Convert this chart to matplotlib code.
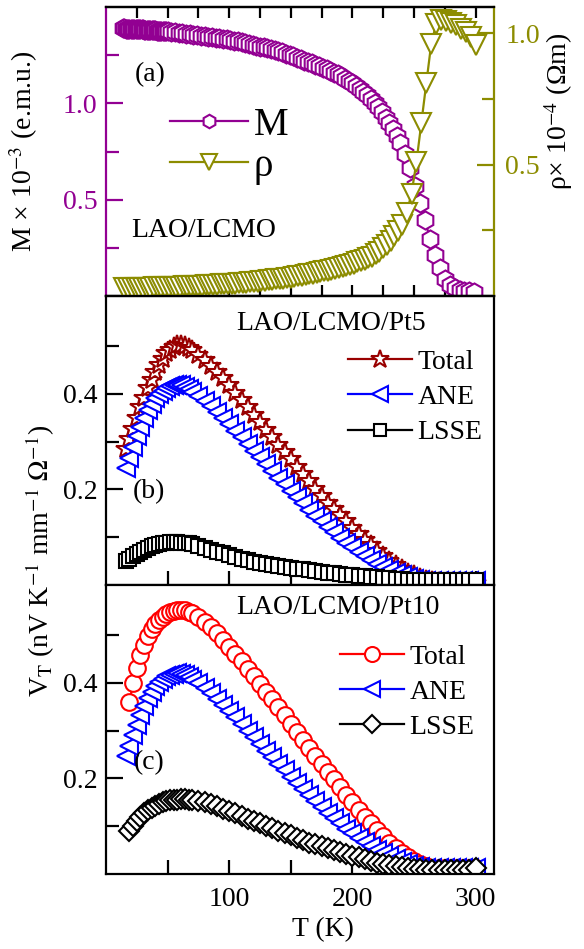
import matplotlib
matplotlib.use("Agg")
import matplotlib.pyplot as plt
from matplotlib.ticker import FixedLocator, FormatStrFormatter

plt.rcParams['font.family'] = ['Liberation Serif', 'DejaVu Serif']
plt.rcParams['mathtext.fontset'] = 'stix'

# ---------------- data ----------------
# panel (a): magnetisation vs T
T_M = [14, 15, 16, 17, 18, 19, 20, 21, 22, 23, 24, 25, 26, 27, 28, 29, 30, 31, 32, 33,
       34, 35, 36, 37, 38, 39, 40, 41, 42, 43, 44, 45, 46, 47, 48, 49, 50,
       53, 56, 59, 62, 65, 68, 71, 74, 77, 80, 83, 86, 89, 92, 95, 98, 101, 104, 107,
       110, 113, 116, 119, 122, 125, 128, 131, 134, 137, 140, 143, 146, 149, 152, 155,
       158, 161, 164, 167, 170, 173, 176, 179, 182, 185, 188, 191, 194, 197, 200, 203,
       206, 209, 212, 215, 218, 221, 224, 227, 230, 233, 236, 239,
       243, 247, 251, 255, 259, 263, 267, 271, 275, 279, 283, 287, 291, 295, 299]
M_a = [1.389, 1.389, 1.388, 1.388, 1.388, 1.387, 1.387, 1.387, 1.386, 1.386, 1.386, 1.385,
       1.385, 1.385, 1.384, 1.384, 1.384, 1.383, 1.383, 1.382, 1.382, 1.381, 1.381, 1.380,
       1.380, 1.379, 1.379, 1.378, 1.378, 1.377, 1.376, 1.376, 1.375, 1.375, 1.374, 1.373,
       1.373,
       1.371, 1.368, 1.366, 1.363, 1.361, 1.358, 1.356, 1.353, 1.351, 1.349, 1.346, 1.344,
       1.341, 1.338, 1.335, 1.332, 1.329, 1.326, 1.323, 1.319, 1.315, 1.310, 1.305, 1.300,
       1.295, 1.291, 1.286, 1.281, 1.276, 1.270, 1.264, 1.258, 1.252, 1.245, 1.238, 1.230,
       1.222, 1.215, 1.207, 1.200, 1.192, 1.184, 1.176, 1.168, 1.159, 1.151, 1.141, 1.129,
       1.117, 1.104, 1.090, 1.075, 1.059, 1.042, 1.023, 1.003, 0.980, 0.954, 0.926, 0.897,
       0.865, 0.832, 0.795,
       0.737, 0.662, 0.573, 0.483, 0.393, 0.295, 0.213, 0.143, 0.090, 0.056, 0.040, 0.032,
       0.028, 0.025, 0.023]

# panel (a): resistivity vs T
T_rho = [15, 18, 21, 24, 27, 30, 33, 36, 39, 42, 45, 48, 51, 54, 57, 60, 63, 66, 69, 72,
         75, 78, 81, 84, 87, 90, 93, 96, 99, 102, 105, 108, 111, 114, 117, 120, 123, 126,
         129, 132, 135, 138, 141, 144, 147, 150, 153, 156, 159, 162, 165, 168, 171, 174,
         177, 180, 183, 186, 189, 192, 195, 198, 201, 204, 207, 210, 213, 216, 219, 222,
         225, 228, 231, 234, 237, 240,
         244, 248, 252, 256, 260, 264, 268, 272, 276, 280, 284, 288, 292, 296, 300]
rho_a = [0.030, 0.030, 0.030, 0.031, 0.031, 0.032, 0.032, 0.032, 0.033, 0.033, 0.034, 0.034,
         0.034, 0.035, 0.035, 0.036, 0.037, 0.037, 0.038, 0.039, 0.040, 0.040, 0.041, 0.042,
         0.043, 0.043, 0.044, 0.045, 0.046, 0.046, 0.047, 0.048, 0.050, 0.051, 0.052, 0.054,
         0.055, 0.057, 0.058, 0.060, 0.061, 0.063, 0.064, 0.066, 0.068, 0.070, 0.073, 0.075,
         0.077, 0.079, 0.082, 0.085, 0.088, 0.091, 0.094, 0.097, 0.100, 0.103, 0.106, 0.110,
         0.114, 0.119, 0.123, 0.128, 0.132, 0.137, 0.143, 0.150, 0.159, 0.169, 0.181, 0.195,
         0.210, 0.227, 0.248, 0.272,
         0.315, 0.390, 0.510, 0.660, 0.810, 0.960, 1.035, 1.052, 1.048, 1.040, 1.030, 1.018,
         1.005, 0.985, 0.955]

# panels (b), (c): thermal voltage vs T
T_bc = [16, 19, 22, 25, 28, 31, 34, 37, 40, 43, 46, 49, 52, 55, 58, 61, 64, 67, 70,
        75, 80, 85, 90, 95, 100, 105, 110, 115, 120, 125, 130, 135, 140, 145, 150, 155,
        160, 165, 170, 175, 180, 185, 190, 195, 200, 205, 210, 215, 220, 225, 230, 235,
        240, 245, 250, 255, 260, 265, 270, 275, 280, 285, 290, 295, 300]

total_b = [0.285, 0.305, 0.327, 0.350, 0.372, 0.392, 0.412, 0.430, 0.446, 0.461, 0.474, 0.485,
           0.493, 0.499, 0.502, 0.503, 0.500, 0.496, 0.491, 0.482, 0.471, 0.459, 0.446, 0.433,
           0.418, 0.403, 0.388, 0.372, 0.356, 0.341, 0.325, 0.310, 0.294, 0.279, 0.263, 0.248,
           0.232, 0.217, 0.201, 0.186, 0.172, 0.159, 0.146, 0.133, 0.120, 0.107, 0.095, 0.083,
           0.071, 0.060, 0.050, 0.041, 0.033, 0.026, 0.020, 0.015, 0.011, 0.008, 0.006, 0.005,
           0.005, 0.005, 0.005, 0.005, 0.005]
ane_b = [0.245, 0.266, 0.289, 0.311, 0.331, 0.350, 0.366, 0.380, 0.391, 0.400, 0.407, 0.412,
         0.416, 0.418, 0.419, 0.418, 0.415, 0.410, 0.405, 0.396, 0.386, 0.375, 0.363, 0.350,
         0.337, 0.323, 0.309, 0.295, 0.281, 0.267, 0.253, 0.239, 0.225, 0.211, 0.197, 0.184,
         0.171, 0.158, 0.145, 0.133, 0.121, 0.110, 0.099, 0.089, 0.079, 0.070, 0.061, 0.053,
         0.045, 0.038, 0.032, 0.026, 0.021, 0.017, 0.013, 0.011, 0.009, 0.008, 0.008, 0.008,
         0.008, 0.008, 0.008, 0.008, 0.008]
lsse_b = [0.050, 0.055, 0.060, 0.065, 0.070, 0.074, 0.078, 0.081, 0.084, 0.086, 0.088, 0.089,
          0.090, 0.090, 0.090, 0.089, 0.088, 0.087, 0.085, 0.082, 0.078, 0.074, 0.070, 0.066,
          0.062, 0.058, 0.055, 0.052, 0.049, 0.046, 0.044, 0.042, 0.040, 0.038, 0.036, 0.034,
          0.033, 0.031, 0.029, 0.028, 0.026, 0.025, 0.023, 0.022, 0.021, 0.019, 0.018, 0.017,
          0.016, 0.015, 0.014, 0.013, 0.012, 0.011, 0.011, 0.010, 0.010, 0.010, 0.010, 0.010,
          0.010, 0.010, 0.010, 0.010, 0.011]

# panel (c): Total and LSSE start at 19 K (T_bc[1:])
total_c = [0.360, 0.400, 0.432, 0.458, 0.480, 0.498, 0.512, 0.523, 0.532, 0.539, 0.544,
           0.548, 0.551, 0.553, 0.553, 0.552, 0.549, 0.546, 0.538, 0.528, 0.517, 0.504, 0.490,
           0.476, 0.461, 0.446, 0.430, 0.414, 0.398, 0.382, 0.366, 0.349, 0.332, 0.315, 0.298,
           0.281, 0.264, 0.247, 0.230, 0.214, 0.198, 0.182, 0.166, 0.150, 0.135, 0.120, 0.106,
           0.092, 0.079, 0.066, 0.054, 0.044, 0.035, 0.027, 0.021, 0.016, 0.013, 0.012, 0.012,
           0.012, 0.012, 0.012, 0.012, 0.012]
ane_c = [0.247, 0.268, 0.291, 0.313, 0.333, 0.352, 0.368, 0.382, 0.393, 0.402, 0.409, 0.414,
         0.417, 0.419, 0.420, 0.419, 0.416, 0.412, 0.407, 0.399, 0.389, 0.378, 0.366, 0.354,
         0.341, 0.328, 0.314, 0.300, 0.286, 0.272, 0.258, 0.244, 0.231, 0.217, 0.204, 0.191,
         0.178, 0.165, 0.152, 0.140, 0.128, 0.117, 0.106, 0.095, 0.085, 0.076, 0.067, 0.059,
         0.051, 0.044, 0.038, 0.032, 0.026, 0.021, 0.017, 0.015, 0.013, 0.012, 0.012, 0.012,
         0.012, 0.012, 0.012, 0.012, 0.012]
lsse_c = [0.090, 0.100, 0.110, 0.119, 0.127, 0.134, 0.139, 0.143, 0.147, 0.150, 0.152,
          0.154, 0.155, 0.156, 0.157, 0.157, 0.156, 0.155, 0.153, 0.150, 0.146, 0.142, 0.137,
          0.132, 0.127, 0.121, 0.116, 0.111, 0.106, 0.101, 0.096, 0.091, 0.086, 0.081, 0.076,
          0.071, 0.066, 0.062, 0.058, 0.054, 0.050, 0.046, 0.042, 0.038, 0.035, 0.031, 0.027,
          0.024, 0.021, 0.018, 0.016, 0.014, 0.012, 0.011, 0.010, 0.009, 0.009, 0.009, 0.009,
          0.009, 0.009, 0.009, 0.009, 0.012]

x_major = [100, 200, 300]
x_minor_bc = [50, 150, 250]
x_ticks_a = [25, 50, 75, 100, 125, 150, 175, 200, 225, 250, 275, 300]

# ---------------- style ----------------
PURPLE = '#920092'
OLIVE = '#8C8C00'
DARKRED = '#990000'
RED = '#FF0000'
BLUE = '#0000FF'
BLACK = '#000000'

FS_TICK = 20
FS_LAB = 20

fig = plt.figure(figsize=(5.84, 9.49), dpi=100)
gs = fig.add_gridspec(3, 1, left=0.1815, right=0.846, top=0.9926, bottom=0.079, hspace=0)
ax_a = fig.add_subplot(gs[0])
ax_b = fig.add_subplot(gs[1])
ax_c = fig.add_subplot(gs[2])
ax_a2 = ax_a.twinx()

def series(ax, x, y, marker, color, ms, label, lw=1.6, mew=1.5):
    return ax.plot(x, y, marker=marker, color=color, mfc='white', mec=color, ms=ms,
                   mew=mew, lw=lw, label=label)[0]

# panel (a)
hM = series(ax_a, T_M, M_a, 'h', PURPLE, 13, 'M')
hR = series(ax_a2, T_rho, rho_a, 'v', OLIVE, 15, 'ρ')
ax_a.set_ylim(0, 1.5)
ax_a2.set_ylim(0, 1.1)

# panel (b)
series(ax_b, T_bc, total_b, '*', DARKRED, 15, 'Total')
series(ax_b, T_bc, ane_b, '<', BLUE, 13, 'ANE')
series(ax_b, T_bc, lsse_b, 's', BLACK, 10, 'LSSE')
ax_b.set_ylim(0, 0.605)

# panel (c)
series(ax_c, T_bc[1:], total_c, 'o', RED, 12, 'Total')
series(ax_c, T_bc, ane_c, '<', BLUE, 13, 'ANE')
series(ax_c, T_bc[1:], lsse_c, 'D', BLACK, 10, 'LSSE')
ax_c.set_ylim(0, 0.605)

for ax in (ax_a, ax_a2, ax_b, ax_c):
    ax.set_xlim(0, 315)
    for s in ax.spines.values():
        s.set_linewidth(1.6)
ax_a.spines['left'].set_color(PURPLE)
ax_a2.spines['left'].set_visible(False)
ax_a2.spines['right'].set_color(OLIVE)
ax_a.spines['right'].set_visible(False)

# ticks panel (a)
ax_a.xaxis.set_major_locator(FixedLocator(x_ticks_a))
ax_a.tick_params(axis='x', which='both', direction='in', top=True, bottom=True,
                 labelbottom=False, length=8, width=1.6)
ax_a.yaxis.set_major_locator(FixedLocator([0.5, 1.0]))
ax_a.yaxis.set_minor_locator(FixedLocator([0.25, 0.75, 1.25]))
ax_a.yaxis.set_major_formatter(FormatStrFormatter('%.1f'))
ax_a.tick_params(axis='y', which='major', direction='in', length=12, width=1.6,
                 colors=PURPLE, labelsize=FS_TICK, pad=6)
ax_a.tick_params(axis='y', which='minor', direction='in', length=9, width=1.6, colors=PURPLE)
ax_a2.yaxis.set_major_locator(FixedLocator([0.5, 1.0]))
ax_a2.yaxis.set_minor_locator(FixedLocator([0.25, 0.75]))
ax_a2.yaxis.set_major_formatter(FormatStrFormatter('%.1f'))
ax_a2.tick_params(axis='y', which='major', direction='in', length=12, width=1.6,
                  colors=OLIVE, labelsize=FS_TICK, pad=8)
ax_a2.tick_params(axis='y', which='minor', direction='in', length=9, width=1.6, colors=OLIVE)

# ticks panels (b), (c)
for ax in (ax_b, ax_c):
    ax.yaxis.set_major_locator(FixedLocator([0.2, 0.4]))
    ax.yaxis.set_minor_locator(FixedLocator([0.1, 0.3, 0.5]))
    ax.yaxis.set_major_formatter(FormatStrFormatter('%.1f'))
    ax.tick_params(axis='y', which='major', direction='in', length=12, width=1.6,
                   labelsize=FS_TICK, pad=6, right=False)
    ax.tick_params(axis='y', which='minor', direction='in', length=9, width=1.6, right=False)
    ax.xaxis.set_major_locator(FixedLocator(x_major))
    ax.xaxis.set_minor_locator(FixedLocator(x_minor_bc))
    ax.tick_params(axis='x', which='both', direction='in', top=False, bottom=True,
                   length=10, width=1.6, labelsize=FS_TICK, pad=9)
ax_b.tick_params(axis='x', which='both', labelbottom=False)

# labels
ax_a.set_ylabel('M × 10$^{-3}$ (e.m.u.)', fontsize=FS_LAB)
ax_a.yaxis.set_label_coords(-0.17, 0.5)
ax_a2.set_ylabel('ρ× 10$^{-4}$ (Ωm)', fontsize=FS_LAB)
ax_a2.yaxis.set_label_coords(1.125, 0.64)
ax_c.set_xlabel('T (K)', fontsize=FS_LAB)
ax_c.xaxis.set_label_coords(0.56, -0.15)
fig.text(40 / 584, 1 - 561 / 949,
         'V$_{\\rm T}$ (nV K$^{-1}$ mm$^{-1}$ $\\Omega^{-1}$)',
         rotation=90, ha='center', va='center', fontsize=FS_LAB)

# annotations
ax_a.text(0.075, 0.765, '(a)', transform=ax_a.transAxes, fontsize=FS_LAB, va='center')
ax_a.text(0.064, 0.228, 'LAO/LCMO', transform=ax_a.transAxes, fontsize=FS_LAB, va='center')
ax_b.text(0.335, 0.906, 'LAO/LCMO/Pt5', transform=ax_b.transAxes, fontsize=FS_LAB, va='center')
ax_b.text(0.07, 0.323, '(b)', transform=ax_b.transAxes, fontsize=FS_LAB, va='center')
ax_c.text(0.335, 0.921, 'LAO/LCMO/Pt10', transform=ax_c.transAxes, fontsize=FS_LAB, va='center')
ax_c.text(0.072, 0.386, '(c)', transform=ax_c.transAxes, fontsize=FS_LAB, va='center')

# legends
ax_a2.legend([hM, hR], ['M', 'ρ'], loc='upper left', bbox_to_anchor=(0.165, 0.655),
             frameon=False, fontsize=28, handlelength=2.0, handletextpad=0.15,
             labelspacing=0.1, borderpad=0, borderaxespad=0, numpoints=1,
             markerscale=0.75)
for ax, anchor in ((ax_b, (0.624, 0.815)), (ax_c, (0.603, 0.795))):
    ax.legend(loc='upper left', bbox_to_anchor=anchor, frameon=False, fontsize=FS_LAB,
              handlelength=2.3, handletextpad=0.2, labelspacing=0.35, borderpad=0,
              borderaxespad=0, numpoints=1, markerscale=0.9)

fig.savefig('out.png', dpi=100)
